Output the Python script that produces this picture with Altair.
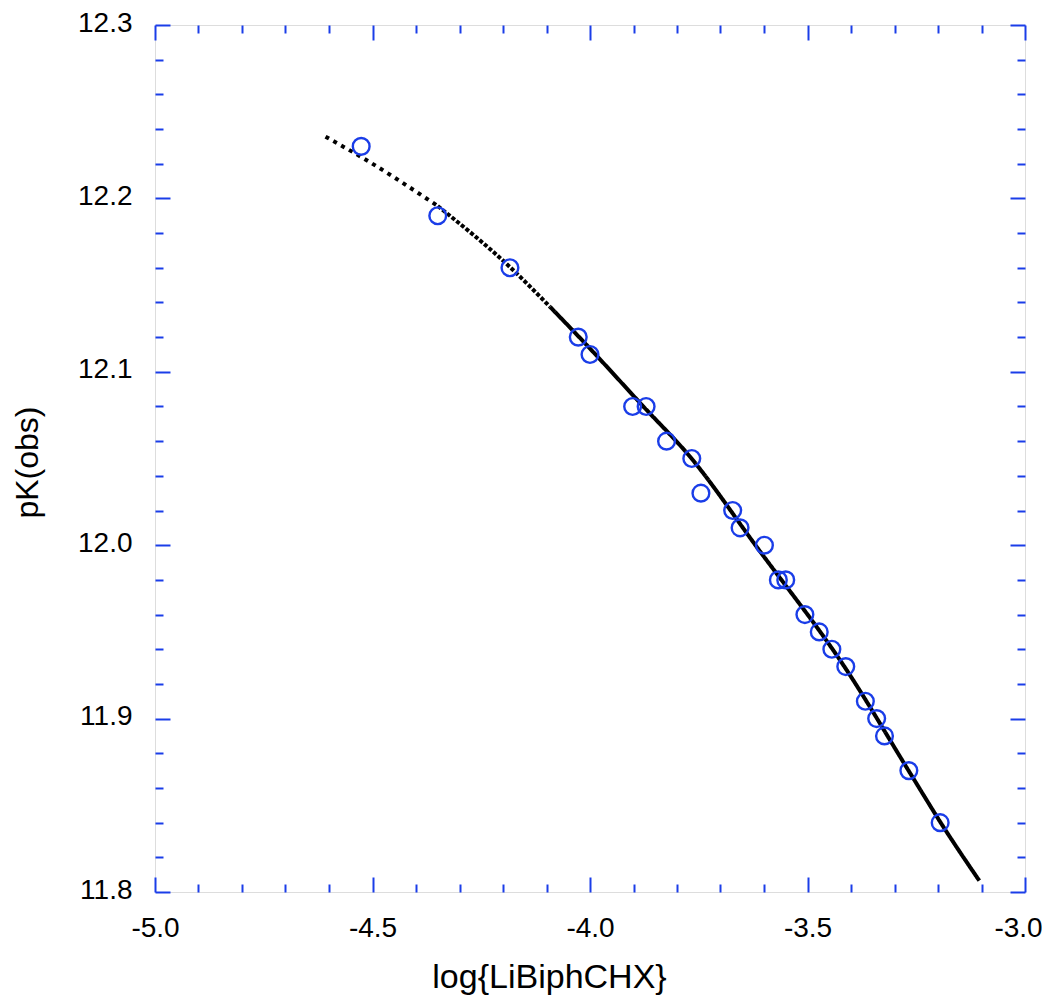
import altair as alt
import pandas as pd

# observed points
obs_x = [-4.526, -4.350, -4.184, -4.027, -4.000, -3.902, -3.871, -3.824, -3.766, -3.745,
         -3.672, -3.655, -3.599, -3.567, -3.550, -3.506, -3.473, -3.444, -3.412, -3.367,
         -3.341, -3.323, -3.267, -3.195]
obs_y = [12.23, 12.19, 12.16, 12.12, 12.11, 12.08, 12.08, 12.06, 12.05, 12.03,
         12.02, 12.01, 12.00, 11.98, 11.98, 11.96, 11.95, 11.94, 11.93, 11.91,
         11.90, 11.89, 11.87, 11.84]

# fitted curve
curve_x = [-4.608, -4.526, -4.350, -4.184, -4.092, -4.015, -3.877, -3.770, -3.617,
           -3.410, -3.264, -3.188, -3.105]
curve_y = [12.2356, 12.2239, 12.1956, 12.1604, 12.1375, 12.1174, 12.0799, 12.051,
           11.9991, 11.928, 11.8685, 11.8377, 11.8065]
# point density of the fitted curve: sparse, medium, dense
seg_names = ["sparse", "medium", "dense"]
seg_ranges = [(0, 2), (2, 4), (4, 12)]

x_major = [-5.0, -4.5, -4.0, -3.5, -3.0]
y_major = [11.8, 11.9, 12.0, 12.1, 12.2, 12.3]
x_ticks = [round(-5.0 + 0.1 * i, 1) for i in range(21)]
y_ticks = [round(11.8 + 0.02 * i, 2) for i in range(26)]

BLUE = "#1a3de8"
W, H = 870, 867
FONT = "Liberation Sans"

obs = pd.DataFrame({"x": obs_x, "y": obs_y})
rows = []
for name, (a, b) in zip(seg_names, seg_ranges):
    for i in range(a, b + 1):
        rows.append({"x": curve_x[i], "y": curve_y[i], "seg": name, "i": i})
curve = pd.DataFrame(rows)

xs = alt.Scale(domain=[-5.0, -3.0], nice=False, zero=False)
ys = alt.Scale(domain=[11.8, 12.3], nice=False, zero=False)

lab = "(datum.value < 0 ? '-' : '') + format(abs(datum.value), '.1f')"

x_tick_size = {"condition": {"test": "abs(datum.value*2 - round(datum.value*2)) < 1e-6", "value": 15}, "value": 8}
y_tick_size = {"condition": {"test": "abs(datum.value*10 - round(datum.value*10)) < 1e-6", "value": 15}, "value": 8}
x_label_offset = {"condition": {"test": "datum.value > -3.05", "value": -7}, "value": 0}

circles = alt.Chart(obs).mark_point(
    shape="circle", filled=False, color=BLUE, size=280, strokeWidth=2.4, opacity=1
).encode(
    x=alt.X("x:Q", scale=xs, axis=alt.Axis(
        orient="bottom", values=x_major, labelExpr=lab, ticks=False, tickSize=0, domain=False,
        grid=False, labelFontSize=28, labelFont=FONT, labelColor="black", labelPadding=22,
        labelOffset=x_label_offset,
        labelFlush=False, title="log{LiBiphCHX}", titleFont=FONT, titleFontSize=34,
        titleFontWeight="normal", titleColor="black", titleX=394, titleY=95,
        titleAlign="center", titleBaseline="alphabetic")),
    y=alt.Y("y:Q", scale=ys, axis=alt.Axis(
        orient="left", values=y_major, labelExpr=lab, ticks=False, tickSize=0, domain=False,
        grid=False, labelFontSize=28, labelFont=FONT, labelColor="black", labelPadding=23,
        labelOffset=-2,
        labelFlush=False, title="pK(obs)", titleFont=FONT, titleFontSize=32,
        titleFontWeight="normal", titleColor="black", titleX=-118, titleY=437,
        titleAngle=270, titleAlign="center", titleBaseline="alphabetic")),
)

line = alt.Chart(curve).mark_line(
    color="black", strokeWidth=4, strokeCap="butt", interpolate="monotone"
).encode(
    x=alt.X("x:Q", scale=xs, axis=alt.Axis(
        orient="top", offset=-H, values=x_ticks, labels=False, domain=False, grid=False,
        tickSize=x_tick_size, tickColor=BLUE, tickWidth=2, title=None)),
    y=alt.Y("y:Q", scale=ys, axis=alt.Axis(
        orient="right", offset=-W, values=y_ticks, labels=False, domain=False, grid=False,
        tickSize=y_tick_size, tickColor=BLUE, tickWidth=2, title=None)),
    strokeDash=alt.StrokeDash("seg:N", scale=alt.Scale(
        domain=seg_names, range=[[4, 5], [4, 2], [1, 0]]), legend=None),
    order="i:Q",
)

ghost = alt.Chart(obs).mark_point(opacity=0).encode(
    x=alt.X("x:Q", scale=xs, axis=alt.Axis(
        orient="bottom", offset=-H, values=x_ticks, labels=False, domain=False, grid=False,
        tickSize=x_tick_size, tickColor=BLUE, tickWidth=2, title=None)),
    y=alt.Y("y:Q", scale=ys, axis=alt.Axis(
        orient="left", offset=-W, values=y_ticks, labels=False, domain=False, grid=False,
        tickSize=y_tick_size, tickColor=BLUE, tickWidth=2, title=None)),
)

chart = alt.layer(line, circles, ghost).resolve_axis(
    x="independent", y="independent"
).properties(
    width=W, height=H,
    autosize=alt.AutoSizeParams(type="none"),
    padding={"left": 147, "top": 17, "right": 17, "bottom": 103},
).configure_view(
    stroke=BLUE, strokeWidth=2
).configure(background="white")

chart.save("out.html", embed_options={"renderer": "svg", "actions": False})
